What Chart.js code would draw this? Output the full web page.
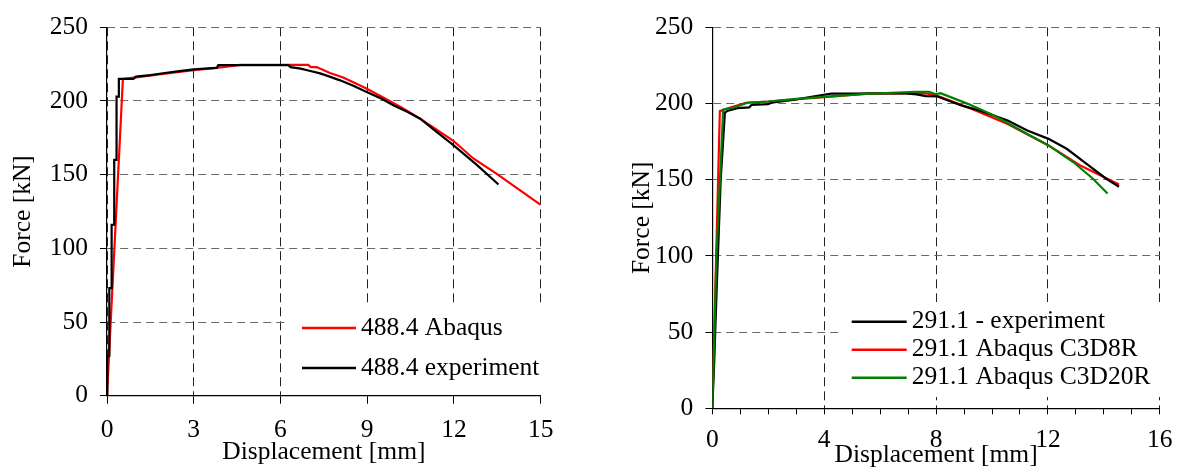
<!DOCTYPE html>
<html>
<head>
<meta charset="utf-8">
<script src="https://cdn.jsdelivr.net/npm/chart.js@4.4.1/dist/chart.umd.min.js"></script>
<style>
  html, body { margin: 0; padding: 0; background: #fff; }
  .wrap { position: relative; width: 1183px; height: 468px; }
  .box { position: absolute; top: 0; height: 468px; }
  #left { left: 0; width: 590px; }
  #right { left: 590px; width: 593px; }
</style>
</head>
<body>
<div class="wrap">
  <div class="box" id="left"><canvas id="chartA"></canvas></div>
  <div class="box" id="right"><canvas id="chartB"></canvas></div>
</div>
<script>
// --- specimen 488.4 (left) ---
const exp488Disp = [0, 0.01, 0.01, 0.08, 0.08, 0.16, 0.16, 0.25, 0.25, 0.33, 0.33, 0.41, 0.41, 0.91, 1.0, 1.5, 2.0, 2.5, 3.0, 3.4, 3.8, 3.85, 6.27, 6.35, 6.7, 7.0, 7.37, 7.7, 8.06, 8.5, 9.0, 9.5, 9.92, 10.4, 10.83, 11.4, 11.98, 12.8, 13.54];
const exp488Force = [0, 0, 27, 27, 73, 73, 116, 116, 160, 160, 203, 203, 215, 215, 216.5, 217.5, 219, 220.3, 221.5, 222, 222.5, 224.3, 224.3, 223, 222, 220.5, 218.7, 216.5, 214, 210.5, 206, 201.5, 197, 192.5, 188, 179, 170, 156.5, 143.3];
const fem488Disp = [0, 0.55, 1.0, 2.0, 3.0, 4.0, 4.6, 6.96, 7.05, 7.25, 7.71, 8.17, 8.92, 9.44, 10.2, 10.83, 11.98, 12.67, 13.48, 15];
const fem488Force = [0, 215, 216, 218.5, 221, 223, 224.5, 224.5, 223, 223, 219, 216, 209, 203.5, 195.5, 188, 173, 161, 150.5, 129.5];
const ticksLeftX = [0, 3, 6, 9, 12, 15];

// --- specimen 291.1 (right) ---
const exp291Disp = [0, 0.07, 0.15, 0.3, 0.45, 0.56, 0.9, 1.32, 1.4, 2.0, 2.1, 2.96, 3.6, 4.25, 5.0, 6.82, 7.3, 7.64, 8.05, 8.5, 8.93, 9.57, 10.56, 11.26, 12.02, 12.67, 13.37, 14.07, 14.54];
const exp291Force = [0, 31, 75, 150, 194, 195.3, 197, 197.5, 199, 199.6, 200.5, 202.5, 204.6, 206.5, 206.5, 206.8, 206, 204.8, 204.6, 201.5, 198.6, 195.3, 188.8, 182.3, 176.8, 170.3, 160.5, 150.8, 145.4];
const c3d8rDisp = [0, 0.27, 0.5, 1.2, 2.0, 3.0, 4.0, 5.53, 7.6, 8.05, 9.28, 10.56, 12.02, 13.14, 14.54];
const c3d8rForce = [0, 195, 196.5, 200.5, 201.3, 202.8, 204.2, 206.5, 206.8, 205, 196.4, 186.6, 172.5, 159.5, 146.9];
const c3d20rDisp = [0, 0.15, 0.39, 0.8, 1.26, 2.0, 3.0, 4.0, 5.5, 7.28, 7.75, 7.99, 8.16, 9.16, 10.09, 11.26, 12.02, 12.9, 13.6, 14.13];
const c3d20rForce = [0, 100, 196, 197.5, 200.5, 201.3, 203, 204.3, 206.3, 207.7, 207.7, 206.1, 206.8, 199.6, 192, 180, 172.5, 161.6, 150.8, 141];
const ticksRightX = [0, 4, 8, 12, 16];
const ticksY = [0, 50, 100, 150, 200, 250];

const FONT = "'Liberation Serif', 'Times New Roman', serif";
const FSIZE = 25.5;
Chart.defaults.font.family = FONT;
Chart.defaults.font.size = FSIZE;
Chart.defaults.color = '#000';

function toPoints(xs, ys) {
  return xs.map((x, i) => ({ x: x, y: ys[i] }));
}

// legend drawn inside the plot, on a white patch
const inlineLegend = {
  id: 'inlineLegend',
  afterDatasetsDraw(chart, args, opts) {
    const ctx = chart.ctx;
    ctx.save();
    ctx.fillStyle = '#fff';
    ctx.fillRect(opts.box[0], opts.box[1], opts.box[2], opts.box[3]);
    ctx.font = FSIZE + 'px ' + FONT;
    ctx.textBaseline = 'middle';
    ctx.textAlign = 'left';
    opts.order.forEach((idx, i) => {
      const ds = chart.data.datasets[idx];
      const y = opts.y + i * opts.gap;
      ctx.strokeStyle = ds.borderColor;
      ctx.lineWidth = 2.5;
      ctx.beginPath();
      ctx.moveTo(opts.x, y);
      ctx.lineTo(opts.x + opts.len, y);
      ctx.stroke();
      ctx.fillStyle = '#000';
      ctx.fillText(ds.label, opts.x + opts.len + 5, y);
    });
    ctx.restore();
  }
};

function yAxis(width, titlePad) {
  return {
    min: 0,
    max: 250,
    afterBuildTicks: (s) => { s.ticks = ticksY.map(v => ({ value: v })); },
    afterFit: (s) => { s.width = width; },
    grid: { color: '#6a6a6a', lineWidth: 1, tickLength: 7, tickColor: '#000', tickBorderDash: [] },
    border: { color: '#000', width: 1.2, dash: [8, 5] },
    ticks: { padding: 12 },
    title: { display: true, text: 'Force [kN]', padding: { top: titlePad, bottom: 0 } }
  };
}

function renderCharts() {
  new Chart(document.getElementById('chartA'), {
    type: 'line',
    data: {
      datasets: [
        { label: '488.4 experiment', data: toPoints(exp488Disp, exp488Force), borderColor: '#000', borderWidth: 2.2, pointRadius: 0, tension: 0 },
        { label: '488.4 Abaqus', data: toPoints(fem488Disp, fem488Force), borderColor: '#ff0000', borderWidth: 2.2, pointRadius: 0, tension: 0 }
      ]
    },
    options: {
      responsive: true,
      maintainAspectRatio: false,
      animation: false,
      layout: { padding: { left: 0, top: 24.3, right: 49.3, bottom: 0 } },
      plugins: {
        legend: { display: false },
        tooltip: { enabled: false },
        inlineLegend: { box: [287, 307, 254, 88], x: 302, y: 328, len: 54, gap: 40, order: [1, 0] }
      },
      scales: {
        x: {
          type: 'linear',
          min: 0,
          max: 15,
          afterBuildTicks: (s) => { s.ticks = ticksLeftX.map(v => ({ value: v })); },
          afterFit: (s) => { s.height = 72.3; },
          grid: { color: '#222', lineWidth: 1, tickLength: 8, tickColor: '#000', tickBorderDash: [] },
          border: { color: '#000', width: 1.2, dash: [9, 5] },
          ticks: { padding: 11, maxRotation: 0 },
          title: { display: true, text: 'Displacement [mm]', padding: { top: 0, bottom: 0.7 } }
        },
        y: yAxis(107, 7.7)
      }
    },
    plugins: [inlineLegend]
  });

  new Chart(document.getElementById('chartB'), {
    type: 'line',
    data: {
      datasets: [
        { label: '291.1 - experiment', data: toPoints(exp291Disp, exp291Force), borderColor: '#000', borderWidth: 2.2, pointRadius: 0, tension: 0, order: 1 },
        { label: '291.1 Abaqus C3D8R', data: toPoints(c3d8rDisp, c3d8rForce), borderColor: '#ff0000', borderWidth: 2.2, pointRadius: 0, tension: 0, order: 2 },
        { label: '291.1 Abaqus C3D20R', data: toPoints(c3d20rDisp, c3d20rForce), borderColor: '#008000', borderWidth: 2.2, pointRadius: 0, tension: 0, order: 0 }
      ]
    },
    options: {
      responsive: true,
      maintainAspectRatio: false,
      animation: false,
      layout: { padding: { left: 0, top: 24.3, right: 14.7, bottom: 0 } },
      plugins: {
        legend: { display: false },
        tooltip: { enabled: false },
        inlineLegend: { box: [250, 302, 323, 95], x: 261.7, y: 321.7, len: 55, gap: 28, order: [0, 1, 2] }
      },
      scales: {
        x: {
          type: 'linear',
          min: 0,
          max: 16,
          afterBuildTicks: (s) => {
            const t = [];
            for (let v = 0; v <= 16; v++) t.push({ value: v });
            s.ticks = t;
          },
          afterFit: (s) => { s.height = 59.7; },
          grid: {
            color: (c) => (c.tick && ticksRightX.includes(c.tick.value)) ? '#222' : 'rgba(0,0,0,0)',
            lineWidth: 1, tickLength: 6, tickColor: '#000', tickBorderDash: []
          },
          border: { color: '#000', width: 1.2, dash: [9, 5] },
          ticks: {
            padding: 10.4,
            maxRotation: 0,
            autoSkip: false,
            callback: (v) => ticksRightX.includes(v) ? String(v) : ''
          },
          title: { display: true, text: 'Displacement [mm]', font: { lineHeight: 1 }, padding: { top: 0, bottom: 0.3 } }
        },
        y: yAxis(122.3, 36.7)
      }
    },
    plugins: [inlineLegend]
  });
}

renderCharts();
</script>
</body>
</html>
